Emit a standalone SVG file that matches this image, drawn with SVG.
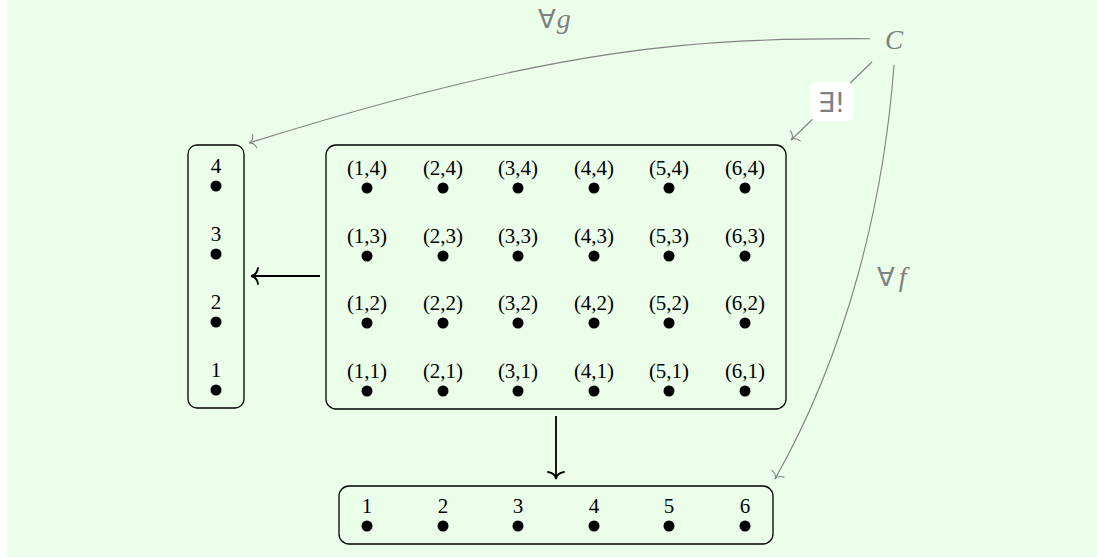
<svg xmlns="http://www.w3.org/2000/svg" width="1097" height="558" viewBox="0 0 1097 558">
<defs>
<style>
.box{fill:none;stroke:#000;stroke-width:1.3}
.lbl{font-family:"Liberation Serif","DejaVu Serif",serif;font-size:21px;fill:#000;text-anchor:middle}
.dot{fill:#000}
.blk{fill:none;stroke:#000;stroke-width:1.8}
.gry{fill:none;stroke:#808080;stroke-width:1.1}
.gtxt{font-family:"Liberation Serif","DejaVu Serif",serif;font-size:27px;fill:#808080;font-style:italic}
.sym{font-family:"DejaVu Sans",sans-serif;fill:#808080}
</style>
<marker id="ab" markerUnits="userSpaceOnUse" markerWidth="20" markerHeight="20" viewBox="-10 -10 20 20" refX="0" refY="0" orient="auto" overflow="visible">
<path d="M-7,-8 Q-6,-1 0,0 Q-6,1 -7,8" fill="none" stroke="#000" stroke-width="1.8" stroke-linecap="round"/>
</marker>
<marker id="ag" markerUnits="userSpaceOnUse" markerWidth="20" markerHeight="20" viewBox="-10 -10 20 20" refX="0" refY="0" orient="auto" overflow="visible">
<path d="M-6,-7 Q-5,-0.8 0,0 Q-5,0.8 -6,7" fill="none" stroke="#808080" stroke-width="1.1" stroke-linecap="round"/>
</marker>
</defs>
<rect x="7" y="0" width="1090" height="557" fill="#eafeea"/>

<g id="Y">
<rect class="box" x="188" y="145" width="56" height="263" rx="9"/>
<text class="lbl" x="216" y="173">4</text><circle class="dot" cx="216" cy="186" r="5.5"/>
<text class="lbl" x="216" y="241">3</text><circle class="dot" cx="216" cy="254" r="5.5"/>
<text class="lbl" x="216" y="309">2</text><circle class="dot" cx="216" cy="322" r="5.5"/>
<text class="lbl" x="216" y="377">1</text><circle class="dot" cx="216" cy="390" r="5.5"/>
</g>

<g id="XY">
<rect class="box" x="326" y="145" width="460" height="264" rx="10"/>
<g id="row4">
<text class="lbl" x="367" y="175">(1,4)</text><circle class="dot" cx="367" cy="188" r="5.5"/>
<text class="lbl" x="443" y="175">(2,4)</text><circle class="dot" cx="443" cy="188" r="5.5"/>
<text class="lbl" x="518" y="175">(3,4)</text><circle class="dot" cx="518" cy="188" r="5.5"/>
<text class="lbl" x="594" y="175">(4,4)</text><circle class="dot" cx="594" cy="188" r="5.5"/>
<text class="lbl" x="669" y="175">(5,4)</text><circle class="dot" cx="669" cy="188" r="5.5"/>
<text class="lbl" x="745" y="175">(6,4)</text><circle class="dot" cx="745" cy="188" r="5.5"/>
</g>
<g id="row3">
<text class="lbl" x="367" y="243">(1,3)</text><circle class="dot" cx="367" cy="256" r="5.5"/>
<text class="lbl" x="443" y="243">(2,3)</text><circle class="dot" cx="443" cy="256" r="5.5"/>
<text class="lbl" x="518" y="243">(3,3)</text><circle class="dot" cx="518" cy="256" r="5.5"/>
<text class="lbl" x="594" y="243">(4,3)</text><circle class="dot" cx="594" cy="256" r="5.5"/>
<text class="lbl" x="669" y="243">(5,3)</text><circle class="dot" cx="669" cy="256" r="5.5"/>
<text class="lbl" x="745" y="243">(6,3)</text><circle class="dot" cx="745" cy="256" r="5.5"/>
</g>
<g id="row2">
<text class="lbl" x="367" y="310">(1,2)</text><circle class="dot" cx="367" cy="323" r="5.5"/>
<text class="lbl" x="443" y="310">(2,2)</text><circle class="dot" cx="443" cy="323" r="5.5"/>
<text class="lbl" x="518" y="310">(3,2)</text><circle class="dot" cx="518" cy="323" r="5.5"/>
<text class="lbl" x="594" y="310">(4,2)</text><circle class="dot" cx="594" cy="323" r="5.5"/>
<text class="lbl" x="669" y="310">(5,2)</text><circle class="dot" cx="669" cy="323" r="5.5"/>
<text class="lbl" x="745" y="310">(6,2)</text><circle class="dot" cx="745" cy="323" r="5.5"/>
</g>
<g id="row1">
<text class="lbl" x="367" y="378">(1,1)</text><circle class="dot" cx="367" cy="391" r="5.5"/>
<text class="lbl" x="443" y="378">(2,1)</text><circle class="dot" cx="443" cy="391" r="5.5"/>
<text class="lbl" x="518" y="378">(3,1)</text><circle class="dot" cx="518" cy="391" r="5.5"/>
<text class="lbl" x="594" y="378">(4,1)</text><circle class="dot" cx="594" cy="391" r="5.5"/>
<text class="lbl" x="669" y="378">(5,1)</text><circle class="dot" cx="669" cy="391" r="5.5"/>
<text class="lbl" x="745" y="378">(6,1)</text><circle class="dot" cx="745" cy="391" r="5.5"/>
</g>
</g>

<g id="X">
<rect class="box" x="339" y="486" width="434" height="58" rx="10"/>
<text class="lbl" x="367" y="513">1</text><circle class="dot" cx="367" cy="526" r="5.5"/>
<text class="lbl" x="443" y="513">2</text><circle class="dot" cx="443" cy="526" r="5.5"/>
<text class="lbl" x="518" y="513">3</text><circle class="dot" cx="518" cy="526" r="5.5"/>
<text class="lbl" x="594" y="513">4</text><circle class="dot" cx="594" cy="526" r="5.5"/>
<text class="lbl" x="669" y="513">5</text><circle class="dot" cx="669" cy="526" r="5.5"/>
<text class="lbl" x="745" y="513">6</text><circle class="dot" cx="745" cy="526" r="5.5"/>
</g>

<g id="C">
<text class="gtxt" x="885" y="49">C</text>
</g>

<g id="connectors">
<line class="blk" x1="320" y1="276" x2="251" y2="276" marker-end="url(#ab)"/>
<line class="blk" x1="556" y1="416" x2="556" y2="479" marker-end="url(#ab)"/>
<path class="gry" d="M870,38.7 C700,38 560,45 249,143" marker-end="url(#ag)"/>
<path class="gry" d="M894,65 C884,200 848,350 775,479" marker-end="url(#ag)"/>
<line class="gry" x1="872" y1="62" x2="791" y2="140" marker-end="url(#ag)"/>
<g id="label-exists">
<rect x="809" y="82" width="45" height="39" rx="8" fill="#fff"/>
<text class="sym" x="831.5" y="112" font-size="27" text-anchor="middle">∃!</text>
</g>
<text class="sym" x="538" y="28" font-size="26">∀<tspan font-family="Liberation Serif,serif" font-style="italic" font-size="28" dx="1">g</tspan></text>
<text class="sym" x="877" y="286" font-size="26">∀<tspan font-family="Liberation Serif,serif" font-style="italic" font-size="28" dx="4">f</tspan></text>
</g>
</svg>
